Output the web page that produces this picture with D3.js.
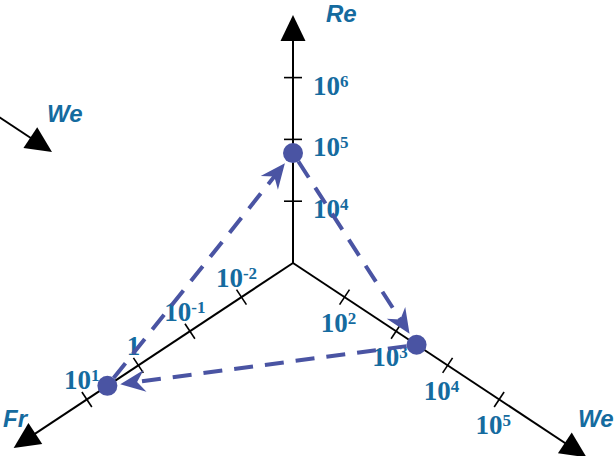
<!DOCTYPE html>
<html>
<head>
<meta charset="utf-8">
<script src="https://cdn.jsdelivr.net/npm/d3@7"></script>
<style>
  html, body { margin: 0; padding: 0; background: #fff; }
  svg { display: block; }
</style>
</head>
<body>
<svg id="chart" width="616" height="456"></svg>
<script>
// Tick exponents on each of the three log axes
const reTickExp = [4, 5, 6];
const frTickExp = [-2, -1, 0, 1];
const weTickExp = [2, 3, 4, 5];

// Operating point read on each axis, and the order the arrows visit them
const pointAxes = ["Fr", "Re", "We"];
const pointValues = [4, 6e4, 2.5e3];
const pathOrder = ["Fr", "Re", "We", "Fr"];

// ---- layout ----
const W = 616, H = 456;
const cx = 293, cy = 263;
const unit = 61.8;                 // one decade along an axis
const tilt = 33.5 * Math.PI / 180; // slope of the two lower axes
const labelColor = "#156b9f";
const markColor = "#4a54a3";

const axes = {
  Re: { dir: [0, -1], len: 248, scale: d3.scaleLog().domain([1e3, 1e4]).range([0, unit]),
        ticks: reTickExp, anchor: "start", ldx: 20, ldy: 17 },
  Fr: { dir: [-Math.cos(tilt), Math.sin(tilt)], len: 335, scale: d3.scaleLog().domain([1e-3, 1e-2]).range([0, unit]),
        ticks: frTickExp, anchor: "middle", ldx: -5, ldy: -10 },
  We: { dir: [Math.cos(tilt), Math.sin(tilt)], len: 352, scale: d3.scaleLog().domain([1e1, 1e2]).range([0, unit]),
        ticks: weTickExp, anchor: "middle", ldx: -6, ldy: 35 }
};

function at(name, value) {
  const a = axes[name];
  const d = a.scale(value);
  return [cx + a.dir[0] * d, cy + a.dir[1] * d];
}

const svg = d3.select("#chart");
const gAxes = svg.append("g");
const gLabels = svg.append("g");
const gPath = svg.append("g");
const gPoints = svg.append("g");

// solid arrowhead with its tip at (x, y) pointing along (ux, uy)
function triangle(x, y, ux, uy, len, half) {
  const bx = x - ux * len, by = y - uy * len;
  const nx = -uy, ny = ux;
  return `M${x},${y}L${bx + nx * half},${by + ny * half}L${bx - nx * half},${by - ny * half}Z`;
}

// ---- axes, ticks, tick labels ----
Object.entries(axes).forEach(([name, a]) => {
  const [ux, uy] = a.dir;
  const ex = cx + ux * a.len, ey = cy + uy * a.len;
  gAxes.append("line")
    .attr("x1", cx).attr("y1", cy).attr("x2", ex - ux * 10).attr("y2", ey - uy * 10)
    .attr("stroke", "#000").attr("stroke-width", 2);
  gAxes.append("path").attr("d", triangle(ex, ey, ux, uy, 26, 12.5)).attr("fill", "#000");

  const nx = -uy, ny = ux;
  a.ticks.forEach(e => {
    const d = a.scale(Math.pow(10, e));
    const tx = cx + ux * d, ty = cy + uy * d;
    gAxes.append("line")
      .attr("x1", tx - nx * 9).attr("y1", ty - ny * 9)
      .attr("x2", tx + nx * 9).attr("y2", ty + ny * 9)
      .attr("stroke", "#000").attr("stroke-width", 1.6);

    const t = gLabels.append("text")
      .attr("x", tx + a.ldx).attr("y", ty + a.ldy)
      .attr("text-anchor", a.anchor)
      .attr("font-family", "'Liberation Serif', 'Times New Roman', serif")
      .attr("font-weight", "bold").attr("font-size", 27)
      .attr("fill", labelColor);
    if (e === 0) {
      t.text("1");
    } else {
      t.append("tspan").text("10");
      t.append("tspan").attr("font-size", 17).attr("dy", -8).text(String(e));
    }
  });
});

// ---- axis names ----
const nameFont = "'Liberation Sans', Arial, sans-serif";
function axisName(txt, x, y) {
  gLabels.append("text").attr("x", x).attr("y", y)
    .attr("font-family", nameFont).attr("font-weight", "bold").attr("font-style", "italic")
    .attr("font-size", 24).attr("fill", labelColor).text(txt);
}
axisName("Re", cx + 33, cy - axes.Re.len + 7);
axisName("Fr", 3, 427);
axisName("We", 578, 427);

// second We direction marker at upper left
{
  const [ux, uy] = axes.We.dir;
  const tipX = cx - 241, tipY = cy - 111;
  gAxes.append("line")
    .attr("x1", tipX - ux * 90).attr("y1", tipY - uy * 90)
    .attr("x2", tipX - ux * 10).attr("y2", tipY - uy * 10)
    .attr("stroke", "#000").attr("stroke-width", 2);
  gAxes.append("path").attr("d", triangle(tipX, tipY, ux, uy, 26, 12.5)).attr("fill", "#000");
  axisName("We", 47, 122);
}

// ---- operating points and dashed transitions ----
const pts = {};
pointAxes.forEach((n, i) => { pts[n] = at(n, pointValues[i]); });
const r = 10;

for (let i = 0; i < pathOrder.length - 1; i++) {
  const [x0, y0] = pts[pathOrder[i]];
  const [x1, y1] = pts[pathOrder[i + 1]];
  const L = Math.hypot(x1 - x0, y1 - y0);
  const ux = (x1 - x0) / L, uy = (y1 - y0) / L;
  const nx = -uy, ny = ux;
  const tipX = x1 - ux * 13, tipY = y1 - uy * 13;
  gPath.append("line")
    .attr("x1", x0 + ux * r).attr("y1", y0 + uy * r)
    .attr("x2", tipX - ux * 16).attr("y2", tipY - uy * 16)
    .attr("stroke", markColor).attr("stroke-width", 4)
    .attr("stroke-dasharray", "19,12");
  // stealth-style arrowhead
  const bx = tipX - ux * 25, by = tipY - uy * 25;
  const kx = tipX - ux * 17, ky = tipY - uy * 17;
  gPath.append("path")
    .attr("d", `M${tipX},${tipY}L${bx + nx * 11},${by + ny * 11}L${kx},${ky}L${bx - nx * 11},${by - ny * 11}Z`)
    .attr("fill", markColor);
}

gPoints.selectAll("circle").data(pointAxes).join("circle")
  .attr("cx", d => pts[d][0]).attr("cy", d => pts[d][1])
  .attr("r", r).attr("fill", markColor);
</script>
</body>
</html>
